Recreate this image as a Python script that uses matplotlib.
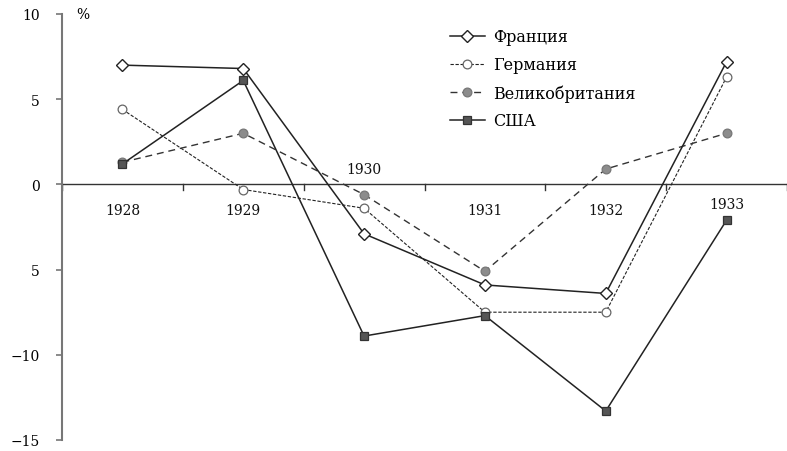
import matplotlib
matplotlib.use("Agg")
import matplotlib.pyplot as plt

years = ["1928", "1929", "1930", "1931", "1932", "1933"]
france = [7.0, 6.8, -2.9, -5.9, -6.4, 7.2]
germany = [4.4, -0.3, -1.4, -7.5, -7.5, 6.3]
britain = [1.3, 3.0, -0.6, -5.1, 0.9, 3.0]
usa = [1.2, 6.1, -8.9, -7.7, -13.3, -2.1]
# year labels sit below the zero line, except where a point is in the way
year_label_y = [-1.5, -1.5, 0.9, -1.5, -1.5, -1.15]
ytick_vals = [10, 5, 0, -5, -10, -15]
ytick_text = ["10", "5", "0", "5", "\u221210", "\u221215"]

plt.rcParams["font.family"] = ["DejaVu Serif"]

fig = plt.figure(figsize=(7.87, 4.52), dpi=100)
ax = fig.add_axes([62 / 787, 1 - 441 / 452, 1 - 62 / 787, 426 / 452])

x = list(range(len(years)))

ax.plot(x, france, color="#222222", lw=1.1, marker="D", ms=5.8,
        mfc="white", mec="#222222", mew=1.0, label="Франция", zorder=4)
ax.plot(x, germany, color="#222222", lw=0.8, ls=(0, (3, 1.5)), marker="o", ms=6.3,
        mfc="white", mec="#666666", mew=0.9, label="Германия", zorder=3)
ax.plot(x, britain, color="#333333", lw=1.0, ls=(0, (5, 3.5)), marker="o", ms=6.3,
        mfc="#8c8c8c", mec="#777777", mew=0.9, label="Великобритания", zorder=3)
ax.plot(x, usa, color="#222222", lw=1.1, marker="s", ms=5.6,
        mfc="#555555", mec="#333333", mew=0.9, label="США", zorder=4)

ax.axhline(0, color="#333333", lw=1.0, zorder=1)
for i in range(len(years) + 1):
    ax.plot([i - 0.5, i - 0.5], [0, -0.3], color="#333333", lw=1.0, zorder=1)

for xi, yr, yl in zip(x, years, year_label_y):
    ax.text(xi, yl, yr, ha="center", va="center", fontsize=10, color="#111111")

ax.set_xlim(-0.5, 5.5)
ax.set_ylim(-15, 10)
ax.set_xticks([])
ax.set_yticks(ytick_vals)
ax.set_yticklabels(ytick_text, fontsize=10)
ax.tick_params(axis="y", length=4, width=1.2, color="#777777", pad=12)

for side in ["top", "right", "bottom"]:
    ax.spines[side].set_visible(False)
ax.spines["left"].set_color("#777777")
ax.spines["left"].set_linewidth(1.5)

ax.text(-0.33, 10, "%", ha="center", va="center", fontsize=10)

ax.legend(loc="upper left", bbox_to_anchor=(0.515, 1.0), frameon=False,
          fontsize=11.5, handlelength=2.2, handletextpad=0.5, labelspacing=0.68)

fig.savefig("out.png", dpi=100)
